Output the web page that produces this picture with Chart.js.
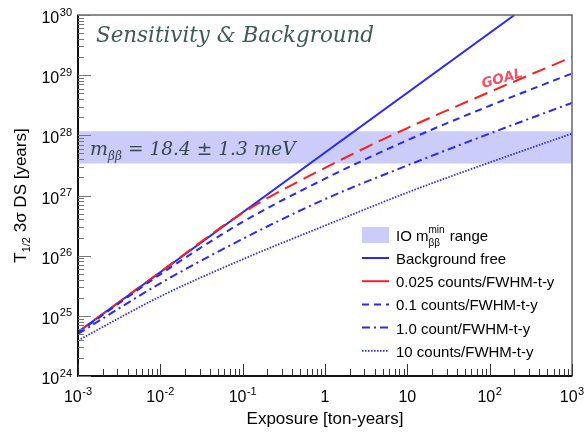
<!DOCTYPE html>
<html>
<head>
<meta charset="utf-8">
<script src="https://cdn.jsdelivr.net/npm/chart.js@4.4.1/dist/chart.umd.min.js"></script>
<style>
  html, body { margin: 0; padding: 0; background: #fff; }
  #wrap { width: 586px; height: 432px; }
</style>
</head>
<body>
<div id="wrap"><canvas id="sens" width="586" height="432"></canvas></div>
<script>
// exposure points (ton-years) where the curves were read
const exposure = [0.001, 0.01, 0.1, 1, 10, 100, 1000];

// background free line: start and where it leaves the top of the frame
const bgFreeX = [0.001, 200];
const bgFreeY = [5.4e24, 1e30];

// sensitivities (years) for the background levels
const goal025 = [5.37e24, 5.37e25, 5.13e26, 2.88e27, 1.32e28, 5.25e28, 2.0e29];
const bkg01   = [5.25e24, 4.9e25, 3.63e26, 1.9e27, 8.3e27, 3.1e28, 1.07e29];
const bkg1    = [5.0e24, 3.47e25, 1.9e26, 8.7e26, 3.16e27, 1.07e28, 3.47e28];
const bkg10   = [3.9e24, 2.1e25, 8.7e25, 3.16e26, 1.12e27, 3.55e27, 1.07e28];

// IO m_bb band
const bandX = [0.001, 1000];
const bandLow = 3.4e27;
const bandHigh = 1.17e28;

// tick labels: [base, exponent]
const xTickVals = [1e-3, 1e-2, 1e-1, 1, 10, 100, 1000];
const xTickLabels = [['10', '-3'], ['10', '-2'], ['10', '-1'], ['1', ''], ['10', ''], ['10', '2'], ['10', '3']];
const yTickVals = [1e24, 1e25, 1e26, 1e27, 1e28, 1e29, 1e30];
const yTickLabels = [['10', '24'], ['10', '25'], ['10', '26'], ['10', '27'], ['10', '28'], ['10', '29'], ['10', '30']];

const legendNames = ['Background free', '0.025 counts/FWHM-t-y', '0.1 counts/FWHM-t-y',
                     '1.0 count/FWHM-t-y', '10 counts/FWHM-t-y'];

const BLUE = 'rgb(40,40,255)';
const RED = 'rgb(255,30,30)';
const BAND = 'rgb(204,204,250)';

const pts = (xs, ys) => xs.map((x, i) => ({ x: x, y: ys[i] }));

const lineStyles = [
  { color: BLUE, dash: [], width: 2 },
  { color: RED, dash: [14, 7], width: 2 },
  { color: BLUE, dash: [7, 5], width: 2 },
  { color: BLUE, dash: [8, 4, 2, 4], width: 2 },
  { color: BLUE, dash: [1.5, 1.5], width: 1.8 }
];

const data = {
  datasets: [
    { label: 'band low', data: pts(bandX, [bandLow, bandLow]), borderWidth: 0, pointRadius: 0, fill: false, order: 10 },
    { label: 'band high', data: pts(bandX, [bandHigh, bandHigh]), borderWidth: 0, pointRadius: 0,
      fill: '-1', backgroundColor: BAND, order: 9 },
    { label: legendNames[0], data: pts(bgFreeX, bgFreeY), borderColor: BLUE, borderWidth: 2, pointRadius: 0, order: 5 },
    { label: legendNames[1], data: pts(exposure, goal025), borderColor: RED, borderWidth: 2,
      borderDash: lineStyles[1].dash, pointRadius: 0, cubicInterpolationMode: 'monotone', order: 4 },
    { label: legendNames[2], data: pts(exposure, bkg01), borderColor: BLUE, borderWidth: 2,
      borderDash: lineStyles[2].dash, pointRadius: 0, cubicInterpolationMode: 'monotone', order: 3 },
    { label: legendNames[3], data: pts(exposure, bkg1), borderColor: BLUE, borderWidth: 2,
      borderDash: lineStyles[3].dash, pointRadius: 0, cubicInterpolationMode: 'monotone', order: 2 },
    { label: legendNames[4], data: pts(exposure, bkg10), borderColor: BLUE, borderWidth: 1.8,
      borderDash: lineStyles[4].dash, pointRadius: 0, cubicInterpolationMode: 'monotone', order: 1 }
  ]
};

// fit a font size so that text spans a given width
function fitFont(ctx, text, style, family, width) {
  ctx.font = style + ' 20px ' + family;
  const w = ctx.measureText(text).width;
  return style + ' ' + (20 * width / w).toFixed(1) + 'px ' + family;
}

// draws "base^exp" with the given alignment
function drawPow(ctx, base, exp, x, y, align) {
  const bf = '16px "Liberation Sans"', ef = '11px "Liberation Sans"';
  ctx.font = bf; const bw = ctx.measureText(base).width;
  ctx.font = ef; const ew = exp ? ctx.measureText(exp).width + 0.5 : 0;
  let x0 = x;
  if (align === 'center') x0 = x - (bw + ew) / 2;
  if (align === 'right') x0 = x - (bw + ew);
  ctx.textAlign = 'left';
  ctx.textBaseline = 'alphabetic';
  ctx.font = bf; ctx.fillText(base, x0, y);
  if (exp) { ctx.font = ef; ctx.fillText(exp, x0 + bw + 0.5, y - 7.5); }
}

const decor = {
  id: 'decor',
  afterDraw(chart) {
    const ctx = chart.ctx, xs = chart.scales.x, ys = chart.scales.y, a = chart.chartArea;
    ctx.save();

    // handwritten notes
    ctx.fillStyle = '#3d5a57';
    ctx.textAlign = 'left'; ctx.textBaseline = 'alphabetic';
    ctx.font = fitFont(ctx, 'Sensitivity & Background', 'italic', '"DejaVu Serif"', 278);
    ctx.fillText('Sensitivity & Background', 96, 42);

    ctx.fillStyle = '#35474c';
    ctx.font = 'italic 19px "DejaVu Serif"';
    ctx.fillText('m', 90, 155);
    let mx = 90 + ctx.measureText('m').width;
    ctx.font = 'italic 12px "DejaVu Serif"';
    ctx.fillText('ββ', mx, 160);
    mx += ctx.measureText('ββ').width + 6;
    ctx.font = fitFont(ctx, '= 18.4 ± 1.3 meV', 'italic', '"DejaVu Serif"', 296 - mx);
    ctx.fillText('= 18.4 ± 1.3 meV', mx, 155);

    ctx.save();
    ctx.translate(483, 88);
    ctx.rotate(-0.27);
    ctx.fillStyle = 'rgb(245,80,105)';
    ctx.font = fitFont(ctx, 'GOAL', 'italic bold', '"DejaVu Sans"', 42);
    ctx.fillText('GOAL', 0, 0);
    ctx.restore();

    // frame
    ctx.setLineDash([]);
    ctx.strokeStyle = '#666';
    ctx.lineWidth = 1.5;
    ctx.strokeRect(a.left, a.top, a.right - a.left, a.bottom - a.top);
    ctx.strokeStyle = '#111';
    ctx.lineWidth = 2;
    ctx.beginPath();
    ctx.moveTo(a.left, a.top); ctx.lineTo(a.left, a.bottom); ctx.lineTo(a.right, a.bottom);
    ctx.stroke();

    // ticks
    ctx.lineWidth = 1;
    ctx.strokeStyle = '#333';
    for (let n = -3; n <= 3; n++) {
      for (let k = 1; k <= 9; k++) {
        const v = k * Math.pow(10, n);
        if (v > 1000.001) break;
        const px = Math.round(xs.getPixelForValue(v)) + 0.5;
        const len = k === 1 ? 12 : 7;
        ctx.beginPath(); ctx.moveTo(px, a.bottom); ctx.lineTo(px, a.bottom - len); ctx.stroke();
      }
    }
    ctx.strokeStyle = '#777';
    for (let n = 24; n <= 30; n++) {
      for (let k = 1; k <= 9; k++) {
        const v = k * Math.pow(10, n);
        if (v > 1.0001e30) break;
        const py = Math.round(ys.getPixelForValue(v)) + 0.5;
        const len = k === 1 ? 13 : 6;
        ctx.beginPath(); ctx.moveTo(a.left, py); ctx.lineTo(a.left + len, py); ctx.stroke();
      }
    }

    // tick labels
    ctx.fillStyle = '#000';
    xTickVals.forEach((v, i) => {
      drawPow(ctx, xTickLabels[i][0], xTickLabels[i][1], xs.getPixelForValue(v), 402, 'center');
    });
    yTickVals.forEach((v, i) => {
      drawPow(ctx, yTickLabels[i][0], yTickLabels[i][1], 72, ys.getPixelForValue(v) + 8, 'right');
    });

    // axis titles
    ctx.font = '17px "Liberation Sans"';
    ctx.textAlign = 'center';
    ctx.fillText('Exposure [ton-years]', (a.left + a.right) / 2, 424);

    ctx.save();
    ctx.translate(26, (a.top + a.bottom) / 2);
    ctx.rotate(-Math.PI / 2);
    const p1 = 'T', p2 = '1/2', p3 = ' 3σ DS [years]';
    ctx.font = '17px "Liberation Sans"'; const w1 = ctx.measureText(p1).width, w3 = ctx.measureText(p3).width;
    ctx.font = '11px "Liberation Sans"'; const w2 = ctx.measureText(p2).width;
    let tx = -(w1 + w2 + w3) / 2;
    ctx.textAlign = 'left';
    ctx.font = '17px "Liberation Sans"'; ctx.fillText(p1, tx, 0); tx += w1;
    ctx.font = '11px "Liberation Sans"'; ctx.fillText(p2, tx, 4); tx += w2;
    ctx.font = '17px "Liberation Sans"'; ctx.fillText(p3, tx, 0);
    ctx.restore();

    // legend
    const lx0 = 362, lx1 = 389, tx0 = 396;
    ctx.fillStyle = BAND;
    ctx.fillRect(lx0, 227, lx1 - lx0, 16);
    ctx.fillStyle = '#000';
    ctx.textAlign = 'left';
    ctx.font = '15px "Liberation Sans"';
    ctx.fillText('IO m', tx0, 241);
    let lx = tx0 + ctx.measureText('IO m').width;
    ctx.font = '10px "Liberation Sans"';
    ctx.fillText('ββ', lx, 246);
    ctx.fillText('min', lx, 233);
    lx += Math.max(ctx.measureText('ββ').width, ctx.measureText('min').width) + 1;
    ctx.font = '15px "Liberation Sans"';
    ctx.fillText(' range', lx, 241);

    legendNames.forEach((name, i) => {
      const yy = 258 + i * 23.2;
      const st = lineStyles[i];
      ctx.strokeStyle = st.color;
      ctx.lineWidth = st.width;
      ctx.setLineDash(i === 1 ? [] : st.dash);
      ctx.beginPath(); ctx.moveTo(lx0, yy); ctx.lineTo(lx1, yy); ctx.stroke();
      ctx.setLineDash([]);
      ctx.fillStyle = '#000';
      ctx.font = '15px "Liberation Sans"';
      ctx.fillText(name, tx0, yy + 6);
    });

    ctx.restore();
  }
};

const config = {
  type: 'line',
  data: data,
  options: {
    responsive: false,
    animation: false,
    devicePixelRatio: 1,
    layout: { padding: { left: 78, right: 14, top: 15, bottom: 56 } },
    elements: { line: { tension: 0 } },
    plugins: {
      legend: { display: false },
      tooltip: { enabled: false }
    },
    scales: {
      x: { type: 'logarithmic', min: 1e-3, max: 1e3, display: false },
      y: { type: 'logarithmic', min: 1e24, max: 1e30, display: false }
    }
  },
  plugins: [decor]
};

new Chart(document.getElementById('sens'), config);
</script>
</body>
</html>
